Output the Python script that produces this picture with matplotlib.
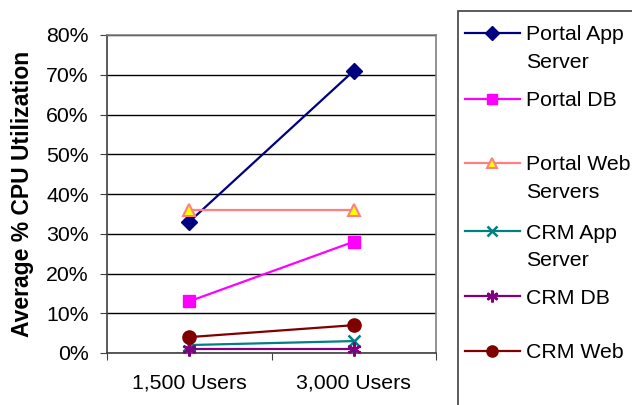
import matplotlib
matplotlib.use("Agg")
import matplotlib.pyplot as plt
from matplotlib.lines import Line2D
from matplotlib.patches import Rectangle
from matplotlib.ticker import MultipleLocator, FuncFormatter

plt.rcParams['font.family'] = ['Liberation Sans', 'DejaVu Sans']

categories = ['1,500 Users', '3,000 Users']
series_names = ['Portal App\nServer', 'Portal DB', 'Portal Web\nServers',
                'CRM App\nServer', 'CRM DB', 'CRM Web']
portal_app = [33, 71]
portal_db = [13, 28]
portal_web = [36, 36]
crm_app = [2, 3]
crm_db = [1, 1]
crm_web = [4, 7]
values = [portal_app, portal_db, portal_web, crm_app, crm_db, crm_web]

# style per series: line colour, marker, marker face, marker edge, marker size
styles = [
    dict(color='#000080', marker='D', mfc='#000080', mec='#000080', ms=8),
    dict(color='#FF00FF', marker='s', mfc='#FF00FF', mec='#FF00FF', ms=9),
    dict(color='#FF8080', marker='^', mfc='#FFFF00', mec='#FF8080', ms=9, mew=1.5),
    dict(color='#008080', marker='x', mfc='#008080', mec='#008080', ms=8, mew=1.8),
    dict(color='#800080', marker=(6, 2, 0), mfc='#800080', mec='#800080', ms=10, mew=1.8),
    dict(color='#800000', marker='o', mfc='#800000', mec='#800000', ms=9.5),
]

W, H = 632, 405
FS = 15.3
fig = plt.figure(figsize=(W / 100, H / 100), dpi=100)
ax = fig.add_axes([107 / W, 1 - 353 / H, (436 - 107) / W, (353 - 35) / H])

x = range(len(categories))
for vals, st in zip(values, styles):
    ax.plot(x, vals, lw=1.6, clip_on=False, zorder=3, **st)

ax.set_xlim(-0.5, 1.5)
ax.set_ylim(0, 80)
ax.yaxis.set_major_locator(MultipleLocator(10))
ax.yaxis.set_major_formatter(FuncFormatter(lambda v, p: f'{int(v)}%'))
ax.grid(axis='y', color='black', lw=1)
ax.set_axisbelow(True)

ax.set_xticks([-0.5, 0.5, 1.5])
ax.set_xticklabels([])
ax.set_xticks(list(x), minor=True)
ax.set_xticklabels(categories, minor=True)
ax.tick_params(axis='x', which='minor', length=0, pad=15, labelsize=FS)
ax.tick_params(axis='x', which='major', direction='out', length=5, color='#404040')
ax.tick_params(axis='y', direction='out', length=5, labelsize=FS, pad=8, color='#404040')

for s in ['top', 'right']:
    ax.spines[s].set_color('#808080')
for s in ['left', 'bottom']:
    ax.spines[s].set_color('#404040')
for s in ax.spines.values():
    s.set_linewidth(1.2)

ax.set_ylabel('Average % CPU Utilization', fontsize=16.5, fontweight='bold', labelpad=9)

# legend box drawn by hand to match the spacing of the original
fig.add_artist(Rectangle((458 / W, -0.05), 0.5, 1 - 11 / H + 0.05,
                         transform=fig.transFigure, fill=False,
                         edgecolor='#404040', lw=1.2))
leg_y = [33, 99, 163, 231, 296, 351]
for name, st, yy in zip(series_names, styles, leg_y):
    fy = 1 - yy / H
    fig.add_artist(Line2D([465 / W, 520 / W], [fy, fy], transform=fig.transFigure,
                          color=st['color'], lw=1.6))
    fig.add_artist(Line2D([492 / W], [fy], transform=fig.transFigure, lw=0,
                          marker=st['marker'], mfc=st['mfc'], mec=st['mec'],
                          ms=st['ms'] * 0.85, mew=st.get('mew', 1)))
    for i, part in enumerate(name.split('\n')):
        fig.text(526 / W, fy - i * 28 / H, part, fontsize=FS, va='center_baseline',
                 ha='left', transform=fig.transFigure)

fig.savefig('out.png', dpi=100)
